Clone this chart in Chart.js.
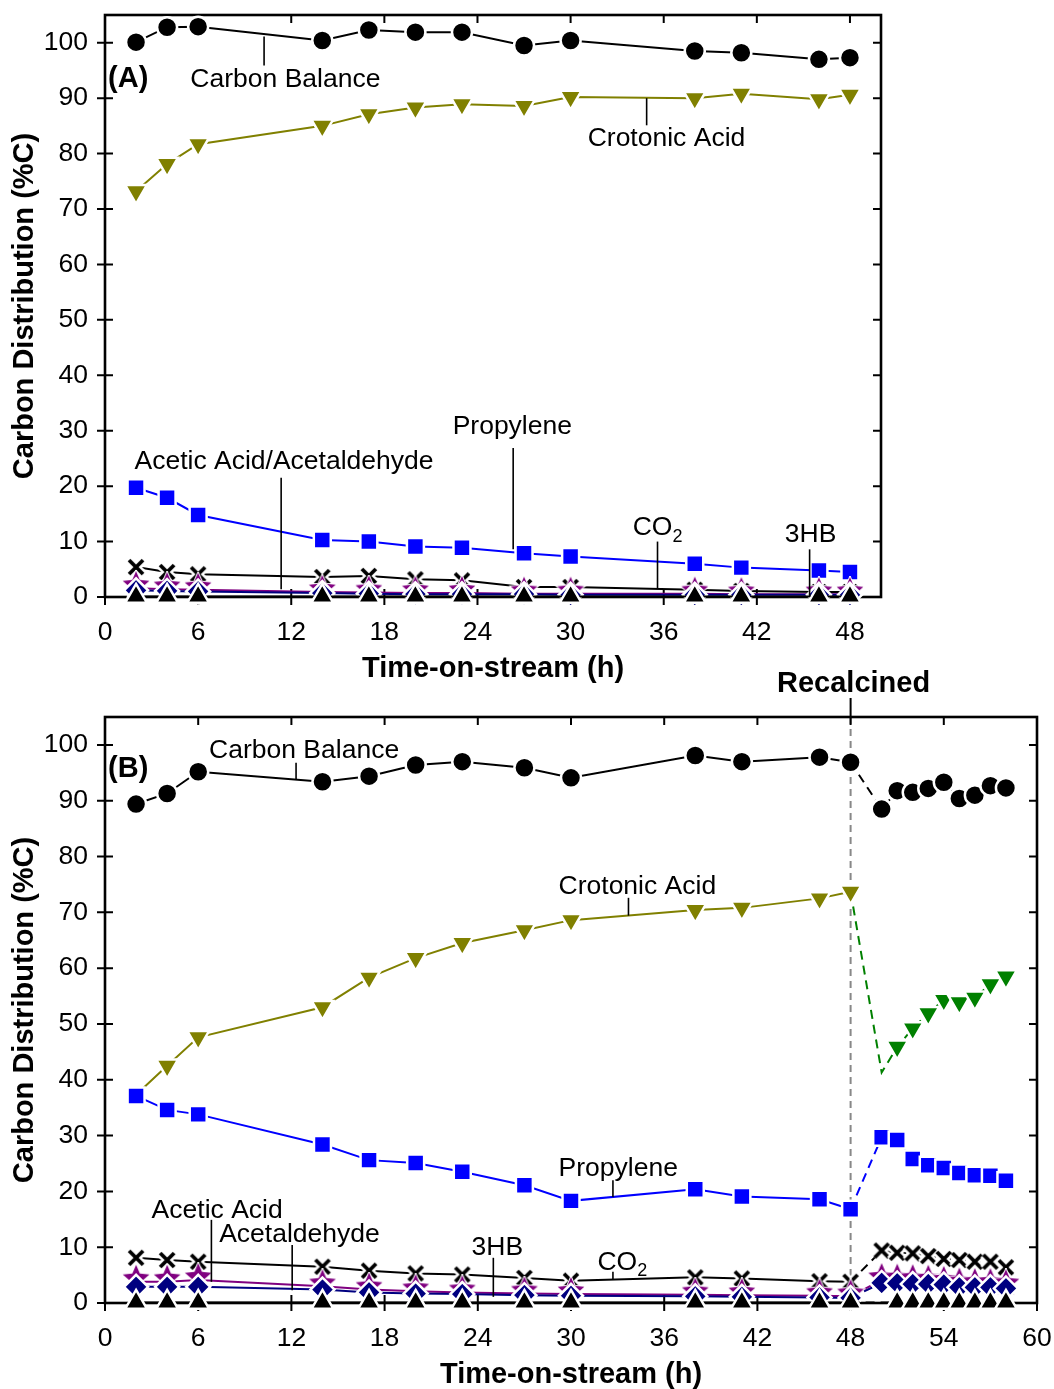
<!DOCTYPE html>
<html>
<head>
<meta charset="utf-8">
<script src="https://cdn.jsdelivr.net/npm/chart.js@4.4.0/dist/chart.umd.min.js"></script>
<style>
  body { margin: 0; background: #fff; }
  #wrap { position: relative; width: 1054px; height: 1389px; }
  canvas { position: absolute; left: 0; }
  #chartA { top: 0; }
  #chartB { top: 660px; }
</style>
</head>
<body>
<div id="wrap">
  <canvas id="chartA" width="1054" height="683"></canvas>
  <canvas id="chartB" width="1054" height="729"></canvas>
</div>
<script>
// tick labels
const yTicks = [0, 10, 20, 30, 40, 50, 60, 70, 80, 90, 100];
const xTicksA = [0, 6, 12, 18, 24, 30, 36, 42, 48];
const xTicksB = [0, 6, 12, 18, 24, 30, 36, 42, 48, 54, 60];

// panel A (values in %C)
const timesA = [2, 4, 6, 14, 17, 20, 23, 27, 30, 38, 41, 46, 48];
const carbonA = [100.1, 102.8, 102.9, 100.4, 102.3, 101.9, 101.9, 99.5, 100.4, 98.5, 98.2, 97.0, 97.3];
const crotonicA = [73.2, 78.1, 81.7, 85.0, 87.1, 88.3, 88.9, 88.6, 90.2, 90.0, 90.8, 89.8, 90.6];
const propyleneA = [19.7, 17.9, 14.8, 10.3, 10.0, 9.1, 8.9, 7.9, 7.3, 6.0, 5.3, 4.8, 4.5];
const co2A = [5.4, 4.5, 4.1, 3.6, 3.8, 3.2, 3.0, 1.8, 1.8, 1.3, 1.1, 0.9, 0.9];
const aceticA = [1.6, 1.4, 1.3, 0.9, 0.8, 0.7, 0.7, 0.6, 0.6, 0.6, 0.5, 0.5, 0.5];
const acetaldehydeA = [1.2, 1.1, 1.0, 0.7, 0.6, 0.5, 0.5, 0.5, 0.4, 0.4, 0.4, 0.4, 0.4];
const hb3A = [0.1, 0.1, 0.1, 0.1, 0.1, 0.1, 0.1, 0.1, 0.1, 0.1, 0.1, 0.1, 0.1];

// panel B, before recalcination
const timesB = [2, 4, 6, 14, 17, 20, 23, 27, 30, 38, 41, 46, 48];
const carbonB = [89.4, 91.3, 95.2, 93.4, 94.4, 96.4, 97.0, 95.9, 94.1, 98.1, 97.0, 97.8, 96.9];
const crotonicB = [37.3, 42.5, 47.6, 53.0, 58.3, 61.8, 64.5, 66.8, 68.6, 70.4, 70.8, 72.5, 73.7];
const propyleneB = [37.1, 34.6, 33.8, 28.4, 25.6, 25.1, 23.5, 21.1, 18.3, 20.4, 19.1, 18.6, 16.8];
const co2B = [8.1, 7.7, 7.4, 6.5, 5.8, 5.3, 5.1, 4.5, 4.0, 4.6, 4.4, 3.9, 3.8];
const aceticB = [3.8, 3.8, 4.1, 3.0, 2.4, 2.1, 1.9, 1.7, 1.6, 1.5, 1.4, 1.3, 1.2];
const acetaldehydeB = [2.9, 2.9, 2.9, 2.4, 1.9, 1.7, 1.6, 1.4, 1.3, 1.2, 1.1, 1.0, 0.9];
const hb3B = [0.1, 0.1, 0.1, 0.1, 0.1, 0.1, 0.1, 0.1, 0.1, 0.1, 0.1, 0.1, 0.1];

// panel B, after recalcination
const timesPostB = [50, 51, 52, 53, 54, 55, 56, 57, 58];
const carbonPostB = [88.5, 91.8, 91.5, 92.2, 93.3, 90.4, 91.0, 92.7, 92.3];
const crotonicPostB = [41.3, 45.9, 49.2, 51.9, 54.3, 53.9, 54.7, 57.1, 58.5];
const propylenePostB = [29.7, 29.2, 25.8, 24.7, 24.2, 23.3, 22.9, 22.8, 21.9];
const co2PostB = [9.4, 9.0, 8.9, 8.4, 7.9, 7.7, 7.4, 7.4, 6.4];
const aceticPostB = [4.1, 4.0, 3.9, 3.8, 3.6, 3.3, 3.2, 3.2, 3.0];
const acetaldehydePostB = [3.6, 3.5, 3.4, 3.4, 3.3, 2.8, 2.8, 2.8, 2.6];
const hb3PostB = [null, 0.1, 0.1, 0.1, 0.1, 0.1, 0.1, 0.1, 0.1];

const recalcTime = 48;
const FONT = 'Liberation Sans, Arial, Helvetica, sans-serif';

// custom markers with white halo
const makeMarker = (size, draw) => {
    const c = document.createElement('canvas');
    c.width = size;
    c.height = size;
    draw(c.getContext('2d'), size / 2);
    return c;
};

const crossMark = makeMarker(28, (g, m) => {
    const r = 7;
    g.lineCap = 'butt';
    [['#fff', 8.5], ['#000', 3.8]].forEach(([col, w]) => {
        g.strokeStyle = col;
        g.lineWidth = w;
        g.beginPath();
        g.moveTo(m - r, m - r); g.lineTo(m + r, m + r);
        g.moveTo(m + r, m - r); g.lineTo(m - r, m + r);
        g.stroke();
    });
});

const starMark = makeMarker(36, (g, m) => {
    g.beginPath();
    for (let i = 0; i < 10; i++) {
        const r = i % 2 === 0 ? 14 : 6.4;
        const a = -Math.PI / 2 + i * Math.PI / 5;
        g.lineTo(m + r * Math.cos(a), m - 3 + r * Math.sin(a));
    }
    g.closePath();
    g.strokeStyle = '#fff';
    g.lineWidth = 2;
    g.stroke();
    g.fillStyle = '#800080';
    g.fill();
});

// marker/line styles per series
const styles = {
    carbon: { color: '#000', pointStyle: 'circle', radius: 10, order: 7 },
    crotonic: { color: '#808000', pointStyle: 'triangle', rotation: 180, radius: 12.5, order: 6 },
    crotonicPost: { color: '#008000', pointStyle: 'triangle', rotation: 180, radius: 12.5, order: 6 },
    propylene: { color: '#0000ff', pointStyle: 'rect', radius: 12, order: 5 },
    co2: { color: '#000', pointStyle: crossMark, radius: 10, order: 4 },
    acetic: { color: '#800080', pointStyle: starMark, radius: 10, order: 3 },
    acetaldehyde: { color: '#000080', pointStyle: 'rectRot', radius: 12, order: 2 },
    hb3: { color: '#000', pointStyle: 'triangle', radius: 12.5, order: 1 }
};

const series = (times, values, st, opts = {}) => {
    const hideAt = opts.hideAt || [];
    return {
        data: times.map((t, i) => ({ x: t, y: values[i] })),
        borderColor: st.color,
        backgroundColor: st.color,
        pointBackgroundColor: st.color,
        pointBorderColor: '#fff',
        pointBorderWidth: 2.5,
        pointStyle: st.pointStyle,
        pointRotation: st.rotation || 0,
        pointRadius: ctx => hideAt.includes(ctx.dataIndex) ? 0 : st.radius,
        borderWidth: 2,
        borderDash: opts.dash || [],
        tension: 0,
        spanGaps: true,
        clip: false,
        order: st.order
    };
};

// post-recalcination series start from the last point before it
const postSeries = (preTimes, pre, post, st, hideAt = [0]) =>
    series([preTimes[preTimes.length - 1], ...timesPostB], [pre[pre.length - 1], ...post], st, { dash: [9, 6], hideAt });

// frame, ticks, labels, recalcination marker
const decor = {
    id: 'decor',
    beforeDatasetsDraw(chart, args, opts) {
        const { ctx, chartArea: a, scales: { x, y } } = chart;
        ctx.save();
        if (opts.recalc) {
            const px = x.getPixelForValue(recalcTime);
            ctx.strokeStyle = '#888';
            ctx.lineWidth = 2;
            ctx.setLineDash([7, 5]);
            ctx.beginPath();
            ctx.moveTo(px, a.top);
            ctx.lineTo(px, a.bottom);
            ctx.stroke();
            ctx.setLineDash([]);
            ctx.strokeStyle = '#000';
            ctx.beginPath();
            ctx.moveTo(px, a.top - 19);
            ctx.lineTo(px, a.top);
            ctx.stroke();
            ctx.fillStyle = '#000';
            ctx.font = 'bold 29px ' + FONT;
            ctx.textAlign = 'center';
            ctx.textBaseline = 'middle';
            ctx.fillText('Recalcined', px + 3, a.top - 33);
        }
        ctx.strokeStyle = '#000';
        ctx.lineWidth = 2.6;
        ctx.strokeRect(a.left, a.top, a.right - a.left, a.bottom - a.top);
        ctx.lineWidth = 2;
        ctx.beginPath();
        opts.xTicks.forEach(v => {
            const px = x.getPixelForValue(v);
            ctx.moveTo(px, a.bottom - 8); ctx.lineTo(px, a.bottom + 8);
            ctx.moveTo(px, a.top); ctx.lineTo(px, a.top + 8);
        });
        yTicks.forEach(v => {
            const py = y.getPixelForValue(v);
            ctx.moveTo(a.left - 8, py); ctx.lineTo(a.left + 8, py);
            ctx.moveTo(a.right - 8, py); ctx.lineTo(a.right, py);
        });
        ctx.stroke();
        ctx.restore();
    },
    afterDatasetsDraw(chart, args, opts) {
        const { ctx, scales: { x, y } } = chart;
        ctx.save();
        ctx.fillStyle = '#000';
        ctx.strokeStyle = '#000';
        ctx.textBaseline = 'middle';
        ctx.textAlign = 'left';
        ctx.font = 'bold 29px ' + FONT;
        ctx.fillText(opts.panel.text, x.getPixelForValue(opts.panel.x), y.getPixelForValue(opts.panel.y));
        ctx.lineWidth = 1.6;
        opts.notes.forEach(n => {
            const lx = x.getPixelForValue(n.lx);
            ctx.beginPath();
            ctx.moveTo(lx, y.getPixelForValue(n.ly[0]));
            ctx.lineTo(lx, y.getPixelForValue(n.ly[1]));
            ctx.stroke();
            const tx = x.getPixelForValue(n.x);
            const ty = y.getPixelForValue(n.y);
            ctx.font = '26.5px ' + FONT;
            ctx.fillText(n.text, tx, ty);
            if (n.sub) {
                const w = ctx.measureText(n.text).width;
                ctx.font = '18px ' + FONT;
                ctx.fillText(n.sub, tx + w, ty + 9);
            }
        });
        ctx.restore();
    }
};

const buildOptions = (xMax, xTicks, padTop, padRight, decorOpts) => ({
    responsive: false,
    animation: false,
    events: [],
    layout: { padding: { top: padTop, right: padRight, left: 0, bottom: 0 } },
    plugins: { legend: { display: false }, tooltip: { enabled: false }, decor: decorOpts },
    scales: {
        x: {
            type: 'linear', min: 0, max: xMax,
            afterBuildTicks: s => { s.ticks = xTicks.map(v => ({ value: v })); },
            afterFit: s => { s.height = 86; s.paddingLeft = 0; s.paddingRight = 0; },
            grid: { display: false, drawTicks: false },
            border: { display: false },
            ticks: { color: '#000', font: { family: FONT, size: 26.5 }, padding: 20, maxRotation: 0, autoSkip: false },
            title: {
                display: true, text: 'Time-on-stream (h)', color: '#000',
                font: { family: FONT, size: 29, weight: 'bold', lineHeight: 1.0 },
                padding: { top: 0, bottom: 0 }
            }
        },
        y: {
            type: 'linear', min: 0, max: 105,
            afterBuildTicks: s => { s.ticks = yTicks.map(v => ({ value: v })); },
            afterFit: s => { s.width = 105; s.paddingTop = 0; s.paddingBottom = 0; },
            grid: { display: false, drawTicks: false },
            border: { display: false },
            ticks: { color: '#000', font: { family: FONT, size: 26.5 }, padding: 17 },
            title: {
                display: true, text: 'Carbon Distribution (%C)', color: '#000',
                font: { family: FONT, size: 29, weight: 'bold' },
                padding: { top: 8, bottom: 0 }
            }
        }
    }
});

const notesA = [
    { text: 'Carbon Balance', x: 5.5, y: 93.4, lx: 10.25, ly: [95.9, 101.1] },
    { text: 'Crotonic Acid', x: 31.1, y: 82.6, lx: 34.9, ly: [85.1, 90.0] },
    { text: 'Propylene', x: 22.4, y: 30.8, lx: 26.3, ly: [26.9, 8.6] },
    { text: 'Acetic Acid/Acetaldehyde', x: 1.9, y: 24.4, lx: 11.35, ly: [21.5, 1.4] },
    { text: 'CO', sub: '2', x: 34.0, y: 12.5, lx: 35.6, ly: [10.0, 1.6] },
    { text: '3HB', x: 43.8, y: 11.3, lx: 45.4, ly: [8.6, 0] }
];

const notesB = [
    { text: 'Carbon Balance', x: 6.7, y: 98.9, lx: 12.3, ly: [96.8, 93.7] },
    { text: 'Crotonic Acid', x: 29.2, y: 74.6, lx: 33.7, ly: [72.6, 69.4] },
    { text: 'Propylene', x: 29.2, y: 24.0, lx: 32.7, ly: [22.0, 19.0] },
    { text: 'Acetic Acid', x: 3.0, y: 16.5, lx: 6.85, ly: [14.9, 3.8] },
    { text: 'Acetaldehyde', x: 7.35, y: 12.2, lx: 12.05, ly: [10.4, 2.3] },
    { text: '3HB', x: 23.6, y: 9.9, lx: 25.0, ly: [8.1, 1.1] },
    { text: 'CO', sub: '2', x: 31.7, y: 7.3, lx: 32.7, ly: [5.6, 4.1] }
];

const displayChartA = () => {
    new Chart(document.getElementById('chartA'), {
        type: 'line',
        data: {
            datasets: [
                series(timesA, hb3A, styles.hb3),
                series(timesA, acetaldehydeA, styles.acetaldehyde),
                series(timesA, aceticA, styles.acetic),
                series(timesA, co2A, styles.co2),
                series(timesA, propyleneA, styles.propylene),
                series(timesA, crotonicA, styles.crotonic),
                series(timesA, carbonA, styles.carbon)
            ]
        },
        options: buildOptions(50, xTicksA, 12, 173, {
            xTicks: xTicksA, recalc: false, notes: notesA,
            panel: { text: '(A)', x: 0.2, y: 93.5 }
        }),
        plugins: [decor]
    });
};

const displayChartB = () => {
    new Chart(document.getElementById('chartB'), {
        type: 'line',
        data: {
            datasets: [
                series(timesB, hb3B, styles.hb3),
                postSeries(timesB, hb3B, hb3PostB, styles.hb3),
                series(timesB, acetaldehydeB, styles.acetaldehyde),
                postSeries(timesB, acetaldehydeB, acetaldehydePostB, styles.acetaldehyde),
                series(timesB, aceticB, styles.acetic),
                postSeries(timesB, aceticB, aceticPostB, styles.acetic),
                series(timesB, co2B, styles.co2),
                postSeries(timesB, co2B, co2PostB, styles.co2),
                series(timesB, propyleneB, styles.propylene),
                postSeries(timesB, propyleneB, propylenePostB, styles.propylene),
                series(timesB, crotonicB, styles.crotonic),
                postSeries(timesB, crotonicB, crotonicPostB, styles.crotonicPost, [0, 1]),
                series(timesB, carbonB, styles.carbon),
                postSeries(timesB, carbonB, carbonPostB, styles.carbon)
            ]
        },
        options: buildOptions(60, xTicksB, 57, 17, {
            xTicks: xTicksB, recalc: true, notes: notesB,
            panel: { text: '(B)', x: 0.2, y: 95.7 }
        }),
        plugins: [decor]
    });
};

displayChartA();
displayChartB();
</script>
</body>
</html>
